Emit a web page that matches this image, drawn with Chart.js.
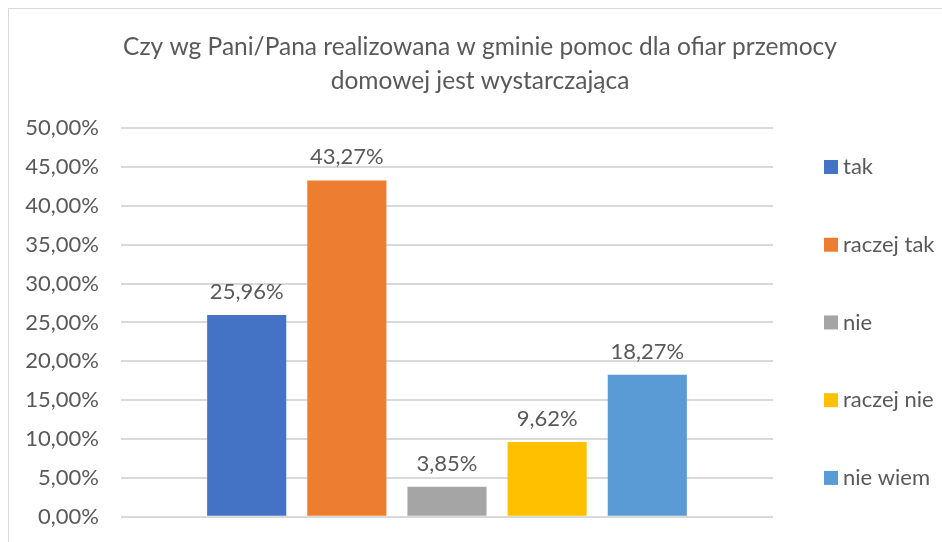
<!DOCTYPE html>
<html>
<head>
<meta charset="utf-8">
<script src="https://cdn.jsdelivr.net/npm/chart.js@4"></script>
<style>
  html, body { margin: 0; padding: 0; background: #fff; overflow: hidden; }
  #frame { position: absolute; left: 8px; top: 8px; width: 960px; height: 560px; border: 1px solid #d9d9d9; }
  #wrap { position: absolute; left: 0; top: 0; width: 942px; height: 543px; }
</style>
</head>
<body>
<div id="frame"><div id="wrap"><canvas id="chart"></canvas></div></div>
<script>
// dane z wykresu
const titleLines = ['Czy wg Pani/Pana realizowana w gminie pomoc dla ofiar przemocy', 'domowej jest wystarczająca'];
const answers = ['tak', 'raczej tak', 'nie', 'raczej nie', 'nie wiem'];
const shares = [25.96, 43.27, 3.85, 9.62, 18.27];
const colors = ['#4472C4', '#ED7D31', '#A5A5A5', '#FFC000', '#5B9BD5'];
const yMax = 50;
const yStep = 5;

const FONT = 'Lato, "Open Sans", sans-serif';
const TEXT = '#595959';
const pct = v => v.toFixed(2).replace('.', ',') + '%';

// etykiety nad słupkami
const valueLabels = {
  id: 'valueLabels',
  afterDatasetsDraw(chart) {
    const ctx = chart.ctx;
    ctx.save();
    ctx.font = '22px ' + FONT;
    ctx.fillStyle = TEXT;
    ctx.textAlign = 'center';
    ctx.textBaseline = 'alphabetic';
    chart.data.datasets.forEach((ds, i) => {
      chart.getDatasetMeta(i).data.forEach((bar, j) => {
        ctx.fillText(pct(ds.data[j]), bar.x, bar.y - 16);
      });
    });
    ctx.restore();
  }
};

// legenda po prawej, rozłożona na wysokość obszaru wykresu
const sideLegend = {
  id: 'sideLegend',
  afterDraw(chart) {
    const ctx = chart.ctx;
    const area = chart.chartArea;
    const n = chart.data.datasets.length;
    const step = area.height / n;
    const mid = (area.top + area.bottom) / 2;
    ctx.save();
    ctx.font = '22px ' + FONT;
    ctx.textBaseline = 'middle';
    chart.data.datasets.forEach((ds, i) => {
      const y = mid + (i - (n - 1) / 2) * step;
      const x = area.right + 51;
      ctx.fillStyle = ds.backgroundColor;
      ctx.fillRect(x, y - 7, 14, 14);
      ctx.fillStyle = TEXT;
      ctx.fillText(ds.label, x + 19, y);
    });
    ctx.restore();
  }
};

new Chart(document.getElementById('chart'), {
  type: 'bar',
  data: {
    labels: [''],
    datasets: answers.map((a, i) => ({
      label: a,
      data: [shares[i]],
      backgroundColor: colors[i],
      barPercentage: 0.79,
      categoryPercentage: 0.768
    }))
  },
  options: {
    responsive: true,
    maintainAspectRatio: false,
    animation: false,
    layout: { padding: { top: 0, right: 0, bottom: 15, left: 0 } },
    plugins: {
      legend: { display: false },
      tooltip: { enabled: false },
      title: {
        display: true,
        text: titleLines,
        color: TEXT,
        font: { family: FONT, size: 24.5, weight: 'normal', lineHeight: 1.39 },
        padding: { top: 21, bottom: 30 }
      }
    },
    scales: {
      x: { display: false },
      y: {
        min: 0,
        max: yMax,
        afterFit(scale) { scale.width = 112; },
        ticks: {
          stepSize: yStep,
          padding: 22,
          color: TEXT,
          font: { family: FONT, size: 22 },
          callback: v => pct(v)
        },
        grid: { color: '#D9D9D9', lineWidth: 2, drawTicks: false },
        border: { display: false }
      },
      // pusta oś po prawej, rezerwuje miejsce na legendę
      legendSpace: {
        position: 'right',
        display: true,
        afterFit(scale) { scale.width = 178; },
        ticks: { display: false },
        grid: { display: false },
        border: { display: false }
      }
    }
  },
  plugins: [valueLabels, sideLegend]
});
</script>
</body>
</html>
